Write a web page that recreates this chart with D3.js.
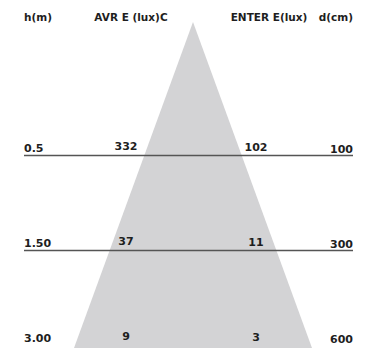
<!DOCTYPE html>
<html><head><meta charset="utf-8">
<script src="https://cdn.jsdelivr.net/npm/d3@7"></script>
<style>
html,body{margin:0;padding:0;background:#fff;}
svg text{font-family:"DejaVu Sans",sans-serif;font-weight:bold;fill:#1e1e1e;}
</style></head>
<body><svg id="c" width="389" height="353"></svg>
<script>
const heights = ["0.5", "1.50", "3.00"];
const avrLux = [332, 37, 9];
const centerLux = [102, 11, 3];
const diameters = [100, 300, 600];
const headers = ["h(m)", "AVR E (lux)C", "ENTER E(lux)", "d(cm)"];

const W = 389, H = 353;
const svg = d3.select("#c");

// row scale: index -> line y
const y = d3.scaleLinear().domain([0, 2]).range([155.5, 345.5]);
// beam geometry scale: y -> half width
const apexY = 22, baseY = 348, cx = 193;
const halfW = d3.scaleLinear().domain([apexY, baseY]).range([0, 119]);

svg.append("path")
  .attr("d", d3.line()([[cx, apexY], [cx + halfW(baseY), baseY], [cx - halfW(baseY), baseY]]) + "Z")
  .attr("fill", "#d3d3d5");

// separator lines (not after last row)
svg.selectAll("line.sep").data(heights.slice(0, 2)).join("line")
  .attr("class", "sep")
  .attr("x1", 24).attr("x2", 353)
  .attr("y1", (d, i) => y(i)).attr("y2", (d, i) => y(i))
  .attr("stroke", "#555").attr("stroke-width", 1.4);

const fs = 10.5, fsN = 11;
// headers
const hx = [[24, "start"], [131, "middle"], [269, "middle"], [353, "end"]];
svg.selectAll("text.hd").data(headers).join("text")
  .attr("class", "hd")
  .attr("x", (d, i) => hx[i][0]).attr("y", 21)
  .attr("text-anchor", (d, i) => hx[i][1])
  .attr("font-size", fs)
  .text(d => d);

function col(data, x, anchor, off) {
  svg.append("g").selectAll("text").data(data).join("text")
    .attr("x", x).attr("y", (d, i) => y(i) - off)
    .attr("text-anchor", anchor)
    .attr("font-size", fsN)
    .text(d => d);
}
col(heights, 24, "start", 4);
col(avrLux, 126, "middle", 6);
col(centerLux, 256, "middle", 4.5);
col(diameters, 353, "end", 2.5);
</script></body></html>
